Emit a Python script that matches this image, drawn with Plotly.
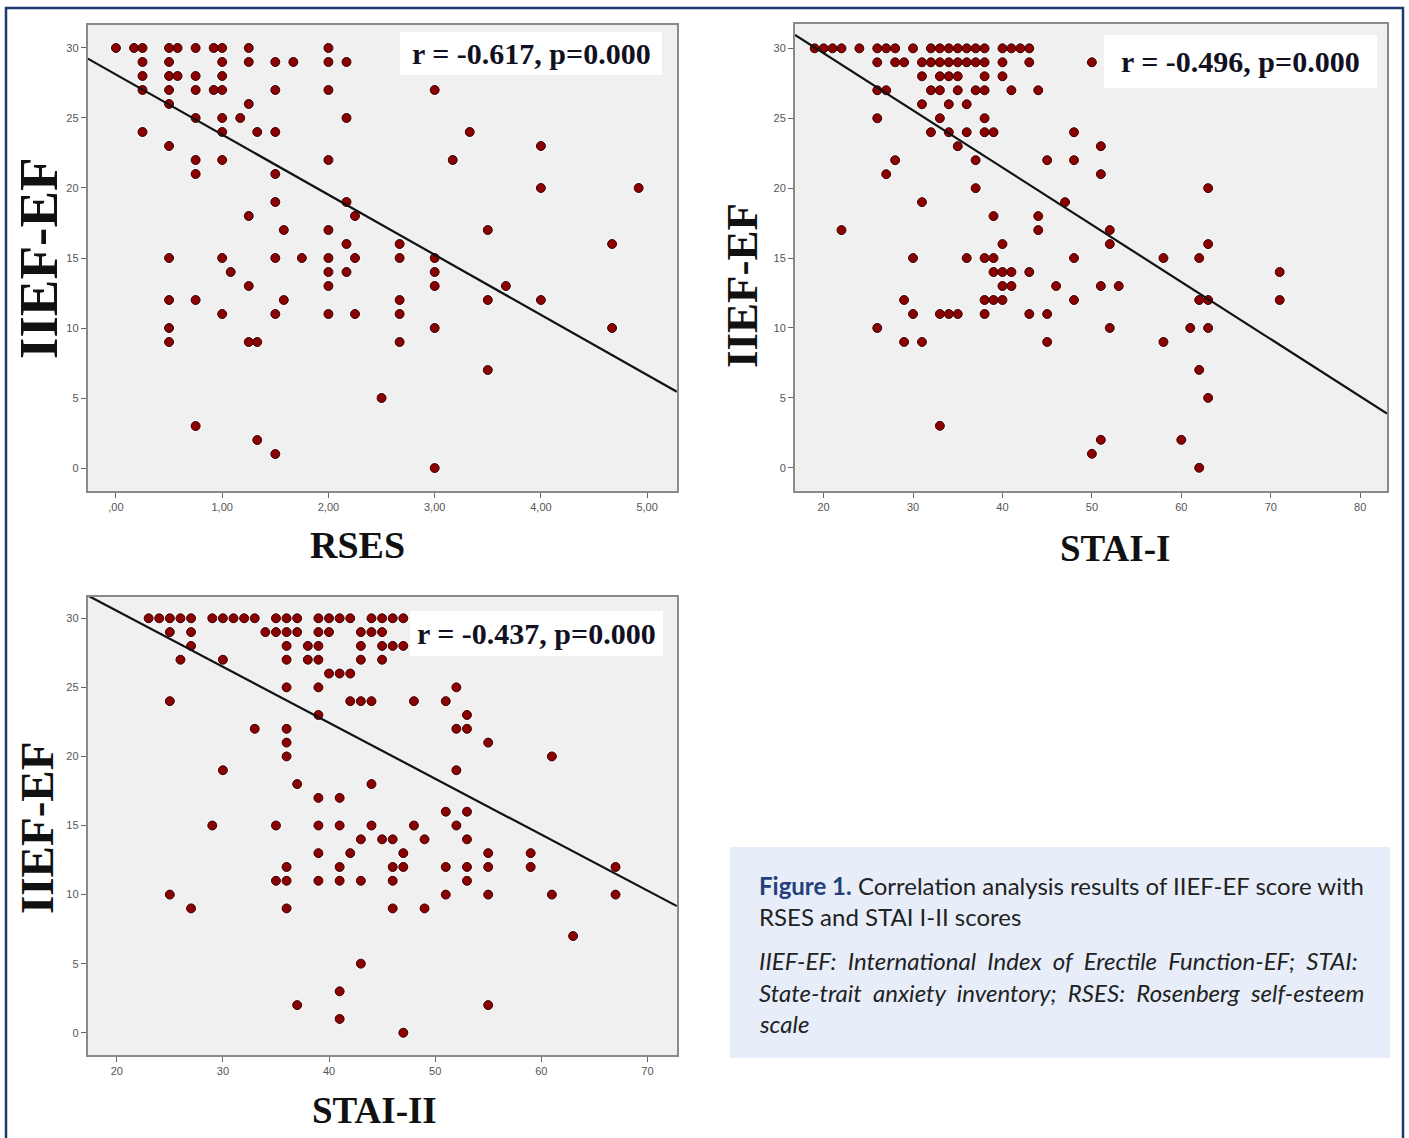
import plotly.graph_objects as go

W, H = 1409, 1138

# ---------------- data ----------------
# IIEF-EF score -> list of RSES values observed at that score
rses_rows = {
    30: [0.0, 0.17, 0.25, 0.5, 0.58, 0.75, 0.92, 1.0, 1.25, 2.0],
    29: [0.25, 0.5, 1.0, 1.25, 1.5, 1.67, 2.0, 2.17],
    28: [0.25, 0.5, 0.58, 0.75, 1.0],
    27: [0.25, 0.5, 0.75, 0.92, 1.0, 1.5, 2.0, 3.0],
    26: [0.5, 1.25],
    25: [0.75, 1.0, 1.17, 2.17],
    24: [0.25, 1.0, 1.33, 1.5, 3.33],
    23: [0.5, 4.0],
    22: [0.75, 1.0, 2.0, 3.17],
    21: [0.75, 1.5],
    20: [4.0, 4.92],
    19: [1.5, 2.17],
    18: [1.25, 2.25],
    17: [1.58, 2.0, 3.5],
    16: [2.17, 2.67, 4.67],
    15: [0.5, 1.0, 1.5, 1.75, 2.0, 2.25, 2.67, 3.0],
    14: [1.08, 2.0, 2.17, 3.0],
    13: [1.25, 2.0, 3.0, 3.67],
    12: [0.5, 0.75, 1.58, 2.67, 3.5, 4.0],
    11: [1.0, 1.5, 2.0, 2.25, 2.67],
    10: [0.5, 3.0, 4.67],
    9: [0.5, 1.25, 1.33, 2.67],
    7: [3.5],
    5: [2.5],
    3: [0.75],
    2: [1.33],
    1: [1.5],
    0: [3.0],
}

# IIEF-EF score -> list of STAI-I values
stai1_rows = {
    30: [19, 20, 21, 22, 24, 26, 27, 28, 30, 32, 33, 34, 35, 36, 37, 38, 40, 41, 42, 43],
    29: [26, 28, 29, 31, 32, 33, 34, 35, 36, 37, 38, 40, 43, 50],
    28: [31, 33, 34, 35, 38, 40],
    27: [26, 27, 32, 33, 35, 37, 38, 41, 44],
    26: [31, 34, 36],
    25: [26, 33, 38],
    24: [32, 34, 36, 38, 39, 48],
    23: [35, 51],
    22: [28, 37, 45, 48],
    21: [27, 51],
    20: [37, 63],
    19: [31, 47],
    18: [39, 44],
    17: [22, 44, 52],
    16: [40, 52, 63],
    15: [30, 36, 38, 39, 48, 58, 62],
    14: [39, 40, 41, 43, 71],
    13: [40, 41, 46, 51, 53],
    12: [29, 38, 39, 40, 48, 62, 63, 71],
    11: [30, 33, 34, 35, 38, 43, 45],
    10: [26, 52, 61, 63],
    9: [29, 31, 45, 58],
    7: [62],
    5: [63],
    3: [33],
    2: [51, 60],
    1: [50],
    0: [62],
}

# IIEF-EF score -> list of STAI-II values
stai2_rows = {
    30: [23, 24, 25, 26, 27, 29, 30, 31, 32, 33, 35, 36, 37, 39, 40, 41, 42, 44, 45, 46, 47],
    29: [25, 27, 34, 35, 36, 37, 39, 40, 43, 44, 45],
    28: [27, 36, 38, 39, 43, 45, 46, 47],
    27: [26, 30, 36, 38, 39, 43, 45],
    26: [40, 41, 42],
    25: [36, 39, 52],
    24: [25, 42, 43, 44, 48, 51],
    23: [39, 53],
    22: [33, 36, 52, 53],
    21: [36, 55],
    20: [36, 61],
    19: [30, 52],
    18: [37, 44],
    17: [39, 41],
    16: [51, 53],
    15: [29, 35, 39, 41, 44, 48, 52],
    14: [43, 45, 46, 49, 53],
    13: [39, 42, 47, 55, 59],
    12: [36, 41, 46, 47, 51, 53, 55, 59, 67],
    11: [35, 36, 39, 41, 43, 46, 53],
    10: [25, 51, 55, 61, 67],
    9: [27, 36, 46, 49],
    7: [63],
    5: [43],
    3: [41],
    2: [37, 55],
    1: [41],
    0: [47],
}

# fitted regression lines (intercept, slope)
fit_rses = (28.1, -4.29)
fit_stai1 = (37.83, -0.409)
fit_stai2 = (38.64, -0.405)

r_labels = ["r = -0.617, p=0.000", "r = -0.496, p=0.000", "r = -0.437, p=0.000"]

iief_ticks = [0, 5, 10, 15, 20, 25, 30]
rses_ticks = [0, 1, 2, 3, 4, 5]
rses_ticktext = [",00", "1,00", "2,00", "3,00", "4,00", "5,00"]
stai1_ticks = [20, 30, 40, 50, 60, 70, 80]
stai2_ticks = [20, 30, 40, 50, 60, 70]

x_titles = ["RSES", "STAI-I", "STAI-II"]
y_title = "IIEF-EF"

caption_head = "Figure 1."
caption_rest = [" Correlation analysis results of IIEF-EF score with",
                "RSES and STAI I-II scores"]
caption_notes = ["IIEF-EF: International Index of Erectile Function-EF; STAI:",
                 "State-trait anxiety inventory; RSES: Rosenberg self-esteem",
                 "scale"]

# ---------------- helpers ----------------
def px(x):
    return x / W

def py(y):
    return 1 - y / H

def flatten(rows):
    xs, ys = [], []
    for score, vals in rows.items():
        for v in vals:
            xs.append(v)
            ys.append(score)
    return xs, ys

DOT = "#8b0000"
FRAME = "#8a8a8a"
TICKFONT = dict(family="Liberation Sans, Arial", size=11, color="#555555")
SERIF = "Liberation Serif, Times New Roman, serif"

panels = [
    dict(rows=rses_rows, fit=fit_rses, xr=[-0.265, 5.28], yr=[-1.64, 31.64],
         xd=[px(87.8), px(676.9)], yd=[py(491), py(25)],
         ticks=rses_ticks, ticktext=rses_ticktext),
    dict(rows=stai1_rows, fit=fit_stai1, xr=[16.8, 83.0], yr=[-1.66, 31.74],
         xd=[px(795), px(1387)], yd=[py(491), py(24)],
         ticks=stai1_ticks, ticktext=[str(t) for t in stai1_ticks]),
    dict(rows=stai2_rows, fit=fit_stai2, xr=[17.27, 72.78], yr=[-1.61, 31.54],
         xd=[px(87.8), px(676.9)], yd=[py(1055), py(597)],
         ticks=stai2_ticks, ticktext=[str(t) for t in stai2_ticks]),
]

fig = go.Figure()
layout = dict(width=W, height=H, autosize=False,
              margin=dict(l=0, r=0, t=0, b=0),
              paper_bgcolor="white", plot_bgcolor="#f0f0f0",
              showlegend=False, shapes=[], annotations=[])

for i, p in enumerate(panels):
    n = "" if i == 0 else str(i + 1)
    xa, ya = "x" + n, "y" + n
    xs, ys = flatten(p["rows"])
    # light halo
    fig.add_trace(go.Scatter(x=xs, y=ys, mode="markers", xaxis=xa, yaxis=ya,
                             marker=dict(size=12, color="rgba(255,255,255,0.75)"),
                             hoverinfo="skip"))
    fig.add_trace(go.Scatter(x=xs, y=ys, mode="markers", xaxis=xa, yaxis=ya,
                             marker=dict(size=9, color=DOT,
                                         line=dict(color="#3a0000", width=1))))
    b0, b1 = p["fit"]
    lx = p["xr"]
    fig.add_trace(go.Scatter(x=lx, y=[b0 + b1 * v for v in lx], mode="lines",
                             xaxis=xa, yaxis=ya, line=dict(color="#111111", width=2.2),
                             hoverinfo="skip"))
    axis_common = dict(showgrid=False, zeroline=False, showline=True, mirror=True,
                       linecolor=FRAME, linewidth=2, ticks="outside", ticklen=5,
                       tickwidth=1, tickcolor="#666666", tickfont=TICKFONT,
                       fixedrange=True)
    layout["xaxis" + n] = dict(axis_common, domain=p["xd"], range=p["xr"],
                               tickvals=p["ticks"], ticktext=p["ticktext"],
                               anchor=ya)
    layout["yaxis" + n] = dict(axis_common, domain=p["yd"], range=p["yr"],
                               tickvals=iief_ticks, anchor=xa)

# r boxes
r_boxes = [(400, 32, 662, 75), (1104, 35, 1377, 88), (410, 611, 663, 656)]
for (x0, y0, x1, y1), lab in zip(r_boxes, r_labels):
    layout["shapes"].append(dict(type="rect", xref="paper", yref="paper",
                                 x0=px(x0), x1=px(x1), y0=py(y1), y1=py(y0),
                                 fillcolor="white", line=dict(width=0), layer="above"))
    layout["annotations"].append(dict(xref="paper", yref="paper",
                                      x=px((x0 + x1) / 2), y=py((y0 + y1) / 2),
                                      text="<b>" + lab + "</b>", showarrow=False,
                                      xanchor="center", yanchor="middle",
                                      font=dict(family=SERIF, size=30, color="#111122")))

# axis titles
xt_pos = [(357, 545, 38), (1115, 548, 37), (374, 1110, 37)]
for (x, y, s), t in zip(xt_pos, x_titles):
    layout["annotations"].append(dict(xref="paper", yref="paper", x=px(x), y=py(y),
                                      text="<b>" + t + "</b>", showarrow=False,
                                      xanchor="center", yanchor="middle",
                                      font=dict(family=SERIF, size=s, color="#111111")))
yt_pos = [(38, 258, 55), (742, 285, 45), (37, 828, 47)]
for (x, y, s) in yt_pos:
    layout["annotations"].append(dict(xref="paper", yref="paper", x=px(x), y=py(y),
                                      text="<b>" + y_title + "</b>", showarrow=False,
                                      textangle=-90, xanchor="center", yanchor="middle",
                                      font=dict(family=SERIF, size=s, color="#111111")))

# caption box
layout["shapes"].append(dict(type="rect", xref="paper", yref="paper",
                             x0=px(730), x1=px(1390), y0=py(1058), y1=py(847),
                             fillcolor="#e7eef9", line=dict(width=0), layer="below"))
CAPFONT = "Lato, Noto Sans, sans-serif"
CAPCOLOR = "#222222"
layout["annotations"].append(dict(
    xref="paper", yref="paper", x=px(757), y=py(885), xanchor="left", yanchor="middle",
    showarrow=False,
    text='<b><span style="color:#24407a">' + caption_head + '</span></b>' + caption_rest[0],
    font=dict(family=CAPFONT, size=24, color=CAPCOLOR)))
layout["annotations"].append(dict(
    xref="paper", yref="paper", x=px(757), y=py(916), xanchor="left", yanchor="middle",
    showarrow=False, text=caption_rest[1],
    font=dict(family=CAPFONT, size=24, color=CAPCOLOR)))

# italic note lines; the first two are widened (approximate justification)
for k, line in enumerate(caption_notes):
    words = line.split(" ")
    sep = "&nbsp; " if k < 2 else " "
    layout["annotations"].append(dict(
        xref="paper", yref="paper", x=px(757), y=py(960 + 32 * k), xanchor="left",
        yanchor="middle", showarrow=False, text="<i>" + sep.join(words) + "</i>",
        font=dict(family=CAPFONT, size=24, color=CAPCOLOR)))

# outer navy frame
layout["shapes"].append(dict(type="rect", xref="paper", yref="paper",
                             x0=px(6), x1=px(1403), y0=-0.02, y1=py(8),
                             fillcolor="rgba(0,0,0,0)",
                             line=dict(color="#1f3a6e", width=2.5), layer="above"))

fig.update_layout(**layout)
fig.write_html("out.html", config=dict(displayModeBar=False),
               post_script="document.body.style.margin='0';document.body.style.overflow='hidden';")
